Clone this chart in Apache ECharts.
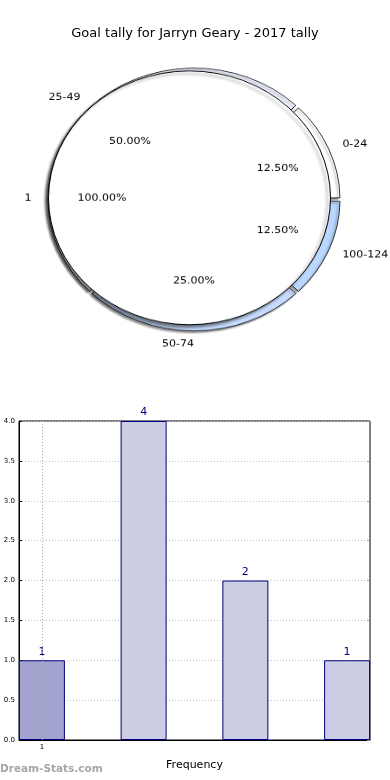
<!DOCTYPE html>
<html>
<head>
<meta charset="utf-8">
<script src="https://cdn.jsdelivr.net/npm/echarts@6/dist/echarts.min.js"></script>
<style>
  html, body { margin: 0; padding: 0; background: #fff; }
  #main { position: absolute; left: 0; top: 0; width: 390px; height: 780px; }
  #pie { position: absolute; left: 0; top: 0; width: 390px; height: 420px;
         transform: scaleY(0.9); transform-origin: 0 0; }
</style>
</head>
<body>
<div id="main"></div>
<div id="pie"></div>
<script>
// ---- data ----
const titleText = 'Goal tally for Jarryn Geary - 2017 tally';
const ringCategories = ['0-24', '25-49', '50-74', '100-124'];
const ringValues = [1, 4, 2, 1];
const ringColors = ['#ffffff', '#eef3ff', '#c6dbfd', '#b9d7ff'];
const innerCategories = ['1'];
const innerValues = [8];
const barPositions = [0, 1, 2, 3];
const barValues = [1, 4, 2, 1];
const xTickValues = [0];
const xTickLabels = ['1'];

const FONT = 'DejaVu Sans';

// ---- pie (elliptical via CSS scaleY) ----
const R = 146;
const ringCenter = [194, 221.7];
const innerR = 141;
const innerCenter = [189.5, 219.8];
const totalRing = ringValues.reduce((a, b) => a + b, 0);
const totalInner = innerValues.reduce((a, b) => a + b, 0);

const pie = echarts.init(document.getElementById('pie'), null, { renderer: 'canvas' });
pie.setOption({
  animation: false,
  series: [
    {
      type: 'pie', z: 1, silent: true,
      center: ringCenter, radius: [R * 0.9, R],
      startAngle: 0, clockwise: false, padAngle: 1.5,
      avoidLabelOverlap: false,
      data: ringCategories.map((c, i) => ({
        name: c, value: ringValues[i],
        itemStyle: { color: ringColors[i] }
      })),
      itemStyle: { borderColor: '#000', borderWidth: 0.8,
        shadowBlur: 2, shadowColor: 'rgba(0,0,0,0.4)', shadowOffsetX: -2, shadowOffsetY: 2 },
      label: { show: true, position: 'outside', formatter: '{b}', color: '#000',
        fontFamily: FONT, fontSize: 11, distanceToLabelLine: 0 },
      labelLine: { show: false, length: R * 0.1, length2: 0 }
    },
    {
      type: 'pie', z: 2, silent: true,
      center: innerCenter, radius: [0, innerR],
      startAngle: 0, clockwise: false,
      data: innerCategories.map((c, i) => ({ name: c, value: innerValues[i] })),
      itemStyle: { color: '#ffffff', borderColor: '#000', borderWidth: 1,
        shadowBlur: 3, shadowColor: 'rgba(0,0,0,0.45)', shadowOffsetX: -3, shadowOffsetY: 3 },
      label: { show: true, position: 'outside', formatter: '{b}', color: '#000',
        fontFamily: FONT, fontSize: 11, distanceToLabelLine: 0 },
      labelLine: { show: false, length: innerR * 0.12, length2: 0 }
    },
    {
      type: 'pie', z: 3, silent: true,
      center: ringCenter, radius: [0, R * 1.2],
      startAngle: 0, clockwise: false,
      data: ringCategories.map((c, i) => ({ name: c, value: ringValues[i] })),
      itemStyle: { color: 'rgba(0,0,0,0)', borderWidth: 0 },
      label: { show: true, position: 'inside', color: '#000', fontFamily: FONT, fontSize: 11,
        formatter: p => (p.value / totalRing * 100).toFixed(2) + '%' },
      labelLine: { show: false }
    },
    {
      type: 'pie', z: 3, silent: true,
      center: innerCenter, radius: [0, innerR * 1.2],
      startAngle: 0, clockwise: false,
      data: innerCategories.map((c, i) => ({ name: c, value: innerValues[i] })),
      itemStyle: { color: 'rgba(0,0,0,0)', borderWidth: 0 },
      label: { show: true, position: 'inside', color: '#000', fontFamily: FONT, fontSize: 11,
        formatter: p => (p.value / totalInner * 100).toFixed(2) + '%' },
      labelLine: { show: false }
    }
  ]
});

// ---- main chart (title + bars) ----
const main = echarts.init(document.getElementById('main'), null, { renderer: 'canvas' });
const highlightIndex = 0;
const gridGrey = '#c4c4c4';
main.setOption({
  animation: false,
  title: {
    text: titleText, left: 'center', top: 22,
    textStyle: { fontFamily: FONT, fontSize: 13, fontWeight: 'normal', color: '#000' }
  },
  graphic: [{
    type: 'text', left: 0, top: 764,
    style: { text: 'Dream-Stats.com', fontFamily: FONT, fontSize: 10.5, fontWeight: 'bold', fill: '#a6a6a6' }
  }],
  grid: { left: 19, right: 20, top: 421, bottom: 40, show: true, borderColor: '#000', borderWidth: 1 },
  xAxis: {
    type: 'value', min: -0.225, max: 3.225,
    name: 'Frequency', nameLocation: 'middle', nameGap: 20,
    nameTextStyle: { fontFamily: FONT, fontSize: 11, color: '#000' },
    axisLine: { show: true, onZero: false, lineStyle: { color: '#000', width: 1 } },
    axisTick: { show: true, inside: true, length: 3, customValues: xTickValues, lineStyle: { color: '#000' } },
    axisLabel: { show: true, customValues: xTickValues, fontFamily: FONT, fontSize: 7, color: '#000', margin: 4,
      formatter: v => { const k = xTickValues.indexOf(v); return k >= 0 ? xTickLabels[k] : ''; } },
    splitLine: { show: false }
  },
  yAxis: [{
    type: 'value', min: 0, max: 4, interval: 0.5,
    axisLine: { show: true, onZero: false, lineStyle: { color: '#000', width: 1 } },
    axisTick: { show: true, inside: true, length: 3, lineStyle: { color: '#000' } },
    axisLabel: { fontFamily: FONT, fontSize: 7, color: '#000', margin: 4, formatter: v => v.toFixed(1) },
    splitLine: { show: true, lineStyle: { color: gridGrey, type: [1, 2], width: 1 } }
  }, {
    type: 'value', min: 0, max: 4, interval: 0.5, position: 'right',
    axisLine: { show: false, onZero: false },
    axisTick: { show: true, inside: true, length: 3, lineStyle: { color: '#999' } },
    axisLabel: { show: false },
    splitLine: { show: false }
  }],
  series: [{
    type: 'bar', barWidth: 46,
    data: barPositions.map((x, i) => [x, barValues[i]]),
    itemStyle: {
      color: p => p.dataIndex === highlightIndex ? '#a3a3cf' : '#ccccE5',
      borderColor: '#000080', borderWidth: 1
    },
    label: { show: true, position: 'top', distance: 3, color: '#000080', fontFamily: FONT, fontSize: 11,
      formatter: p => String(p.value[1]) },
    markLine: {
      silent: true, symbol: ['none', 'none'], label: { show: false },
      lineStyle: { color: '#a8a8a8', type: [1, 2], width: 1 },
      data: xTickValues.map(v => ({ xAxis: v }))
    }
  }]
});
</script>
</body>
</html>
